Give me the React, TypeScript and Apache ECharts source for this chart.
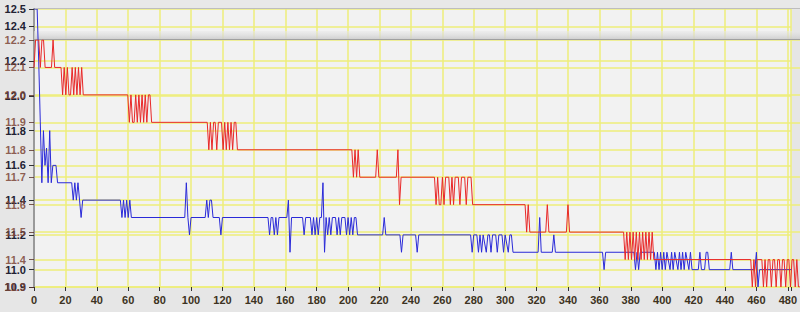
import React, { useEffect, useRef } from "react";
import * as echarts from "echarts";

// x tick step and ranges
const xTickStep = 20;
const xMin = 0;
const xMax = 482;

// blue chart (base) y range and tick labels
const blueMin = 10.9;
const blueMax = 12.5;
const blueTicks = [10.9, 11.0, 11.2, 11.4, 11.6, 11.8, 12.0, 12.2, 12.4, 12.5];

// red chart (overlay) y range
const redMin = 11.3;
const redMax = 12.2;
const redStep = 0.1;

// red series: [sample, value]
const redPoints: [number, number][] = [
  [0, 12.1], [1, 12.2], [2, 12.2], [3, 12.2], [4, 12.1], [5, 12.2], [6, 12.2], [7, 12.1], [11, 12.1], [12, 12.2], [13, 12.1],
  [17, 12.1], [18, 12.0], [19, 12.1], [20, 12.0], [21, 12.1], [22, 12.0], [23, 12.0], [24, 12.1], [25, 12.0], [26, 12.1], [27, 12.0], [28, 12.1], [29, 12.0], [30, 12.1], [31, 12.0],
  [59, 12.0], [60, 11.9], [61, 12.0], [62, 11.9], [63, 11.9], [64, 12.0], [65, 11.9], [66, 12.0], [67, 11.9], [68, 12.0], [69, 11.9], [70, 12.0], [71, 11.9], [72, 12.0], [73, 12.0], [74, 11.9],
  [109, 11.9], [110, 11.8], [111, 11.9], [112, 11.8], [113, 11.9], [114, 11.9], [115, 11.8], [116, 11.9], [118, 11.9], [119, 11.8], [120, 11.9], [121, 11.8], [122, 11.9], [123, 11.8], [124, 11.9], [125, 11.8], [126, 11.9], [127, 11.9], [128, 11.8],
  [200, 11.8], [201, 11.7], [202, 11.8], [203, 11.7], [204, 11.8], [205, 11.7],
  [215, 11.7], [216, 11.8], [217, 11.7],
  [228, 11.7], [229, 11.8], [230, 11.6], [231, 11.7],
  [252, 11.7], [253, 11.6], [254, 11.7], [255, 11.6], [256, 11.6], [257, 11.7], [258, 11.6], [259, 11.7], [261, 11.7], [262, 11.6], [263, 11.7], [264, 11.6], [265, 11.7], [267, 11.7], [268, 11.6], [269, 11.7], [271, 11.7], [272, 11.6], [273, 11.7], [275, 11.7], [276, 11.6],
  [309, 11.6], [310, 11.5], [311, 11.6], [312, 11.5],
  [322, 11.5], [323, 11.6], [324, 11.5],
  [335, 11.5], [336, 11.6], [337, 11.5],
  [371, 11.5], [372, 11.4], [373, 11.5], [374, 11.4], [375, 11.5], [376, 11.4], [377, 11.5], [378, 11.4], [379, 11.5], [380, 11.4], [381, 11.5], [382, 11.4], [383, 11.5], [384, 11.4], [385, 11.5], [386, 11.4], [387, 11.5], [388, 11.4], [389, 11.5], [390, 11.4],
  [451, 11.4], [452, 11.3], [453, 11.4], [454, 11.3], [455, 11.4], [458, 11.4], [459, 11.3], [460, 11.4], [461, 11.3], [462, 11.4], [463, 11.4], [464, 11.3], [465, 11.4], [466, 11.4], [467, 11.3], [468, 11.4], [469, 11.4], [470, 11.3], [471, 11.4], [472, 11.4], [473, 11.3], [474, 11.4], [475, 11.4], [476, 11.3], [477, 11.4], [478, 11.4], [479, 11.3], [480, 11.4], [481, 11.3], [482, 11.3],
];

// blue series: [sample, value]
const bluePoints: [number, number][] = [
  [0, 12.5], [2, 12.5], [3, 12.2], [4, 11.85], [5, 11.5], [6, 11.8], [7, 11.6], [8, 11.7], [9, 11.5], [10, 11.8], [11, 11.5], [12, 11.6], [14, 11.6], [15, 11.5],
  [24, 11.5], [25, 11.4], [26, 11.5], [27, 11.4], [28, 11.5], [29, 11.4], [30, 11.3], [31, 11.4],
  [55, 11.4], [56, 11.3], [57, 11.4], [58, 11.3], [59, 11.4], [60, 11.3], [61, 11.4], [62, 11.3],
  [96, 11.3], [97, 11.5], [98, 11.3], [99, 11.2], [100, 11.3],
  [109, 11.3], [110, 11.4], [111, 11.3], [112, 11.4], [113, 11.4], [114, 11.3],
  [118, 11.3], [119, 11.2], [120, 11.3],
  [149, 11.3], [150, 11.2], [151, 11.3], [152, 11.3], [153, 11.2], [154, 11.3], [155, 11.2], [156, 11.3],
  [161, 11.3], [162, 11.4], [163, 11.1], [164, 11.3],
  [171, 11.3], [172, 11.2], [173, 11.3], [176, 11.3], [177, 11.2], [178, 11.3], [179, 11.2], [180, 11.3], [181, 11.2], [182, 11.3], [183, 11.3], [184, 11.5], [185, 11.1], [186, 11.3], [187, 11.2], [188, 11.3], [189, 11.2], [190, 11.3], [192, 11.3], [193, 11.2], [194, 11.3], [195, 11.2], [196, 11.3], [198, 11.3], [199, 11.2], [200, 11.3], [201, 11.2], [202, 11.3], [203, 11.2], [204, 11.3], [205, 11.3], [206, 11.2],
  [222, 11.2], [223, 11.3], [224, 11.2],
  [233, 11.2], [234, 11.1], [235, 11.2],
  [243, 11.2], [244, 11.1], [245, 11.2],
  [278, 11.2], [279, 11.1], [280, 11.2], [282, 11.2], [283, 11.1], [284, 11.2], [285, 11.1], [286, 11.2], [288, 11.1], [289, 11.2], [290, 11.2], [291, 11.1], [292, 11.2], [294, 11.2], [295, 11.1], [296, 11.2], [298, 11.2], [299, 11.1], [300, 11.2], [302, 11.1], [303, 11.2], [304, 11.2], [305, 11.1],
  [321, 11.1], [322, 11.3], [323, 11.1],
  [330, 11.1], [331, 11.2], [332, 11.1],
  [362, 11.1], [363, 11.0], [364, 11.1],
  [382, 11.1], [383, 11.0], [384, 11.1], [385, 11.0], [386, 11.1],
  [395, 11.1], [396, 11.0], [397, 11.1], [398, 11.0], [399, 11.1], [400, 11.0], [401, 11.1], [402, 11.0], [403, 11.1], [405, 11.0], [406, 11.1], [407, 11.0], [408, 11.1], [410, 11.0], [411, 11.1], [412, 11.0], [413, 11.1], [414, 11.0], [415, 11.1], [417, 11.0], [418, 11.1], [419, 11.0],
  [423, 11.0], [424, 11.1], [425, 11.0], [427, 11.0], [428, 11.1], [429, 11.1], [430, 11.0],
  [443, 11.0], [444, 11.1], [445, 11.0],
  [459, 11.0], [460, 11.1], [461, 10.9], [462, 11.0], [482, 11.0],
];

const FONT = "Liberation Sans";
const GRID_YELLOW = "#eeee7a";

export default function App() {
  const ref = useRef<HTMLDivElement>(null);

  useEffect(() => {
    if (!ref.current) return;
    const chart = echarts.init(ref.current, undefined, { renderer: "svg" });

    const xLabelFmt = (v: number) => (v % xTickStep === 0 ? String(v) : "");

    chart.setOption({
      animation: false,
      backgroundColor: "#e6e6e6",
      grid: [
        { left: 34, right: 0, top: 9, bottom: 25, show: true, backgroundColor: "#f2f2f2", borderWidth: 0 },
        { left: 34, right: 0, top: 40, bottom: 25, show: false },
      ],
      xAxis: [
        {
          type: "value", gridIndex: 0, min: xMin, max: xMax, interval: xTickStep,
          axisLine: { show: false },
          axisTick: { show: true, length: 4, lineStyle: { color: "#333", width: 1 } },
          axisLabel: { color: "#3d3322", fontFamily: FONT, fontWeight: "bold", fontSize: 11, margin: 7, formatter: xLabelFmt },
          splitLine: { show: true, lineStyle: { color: GRID_YELLOW, width: 1.5 } },
        },
        {
          type: "value", gridIndex: 1, min: xMin, max: xMax, interval: xTickStep,
          axisLine: { show: false }, axisTick: { show: false }, axisLabel: { show: false },
          splitLine: { show: false },
        },
      ],
      yAxis: [
        {
          type: "value", gridIndex: 0, min: blueMin, max: blueMax,
          axisLine: { show: true, lineStyle: { color: "#9a9a9a", width: 2 } },
          axisTick: { show: true, length: 5, customValues: blueTicks, lineStyle: { color: "#333" } },
          axisLabel: {
            customValues: blueTicks, color: "#222233", fontFamily: FONT, fontWeight: "bold", fontSize: 11, margin: 8,
            formatter: (v: number) => v.toFixed(1),
          },
          splitLine: { show: true, lineStyle: { color: GRID_YELLOW, width: 1.5 } },
        },
        {
          type: "value", gridIndex: 1, min: redMin, max: redMax, interval: redStep,
          axisLine: { show: false },
          axisTick: { show: true, length: 5, lineStyle: { color: "rgba(90,50,40,0.8)" } },
          axisLabel: {
            color: "rgba(125,70,55,0.85)", fontFamily: FONT, fontWeight: "bold", fontSize: 11, margin: 8,
            formatter: (v: number) => v.toFixed(1),
          },
          splitLine: { show: true, lineStyle: { color: GRID_YELLOW, width: 1.5 } },
        },
      ],
      series: [
        {
          type: "line", xAxisIndex: 0, yAxisIndex: 0, data: bluePoints, symbol: "none", showSymbol: false,
          lineStyle: { color: "#2a2ad8", width: 1 }, z: 3,
        },
        {
          type: "line", xAxisIndex: 1, yAxisIndex: 1, data: redPoints, symbol: "none", showSymbol: false,
          lineStyle: { color: "#e82828", width: 1 }, z: 4,
        },
      ],
      graphic: [
        { type: "rect", shape: { x: 35, y: 0, width: 765, height: 8 }, style: { fill: "#e8e8e8" }, z: 10 },
        { type: "line", shape: { x1: 35, y1: 8.5, x2: 800, y2: 8.5 }, style: { stroke: "#bdbdbd", lineWidth: 1 }, z: 10 },
        {
          type: "rect", shape: { x: 34, y: 31, width: 766, height: 8 },
          style: {
            fill: new echarts.graphic.LinearGradient(0, 0, 0, 1, [
              { offset: 0, color: "rgba(232,232,232,0.5)" },
              { offset: 1, color: "rgba(205,205,205,0.9)" },
            ]),
          },
          z: 2,
        },
        { type: "line", shape: { x1: 34, y1: 39.5, x2: 800, y2: 39.5 }, style: { stroke: "#a0a0a0", lineWidth: 1 }, z: 2 },
      ],
    });

    return () => chart.dispose();
  }, []);

  return <div ref={ref} style={{ position: "absolute", left: 0, top: 0, width: 800, height: 312 }} />;
}
